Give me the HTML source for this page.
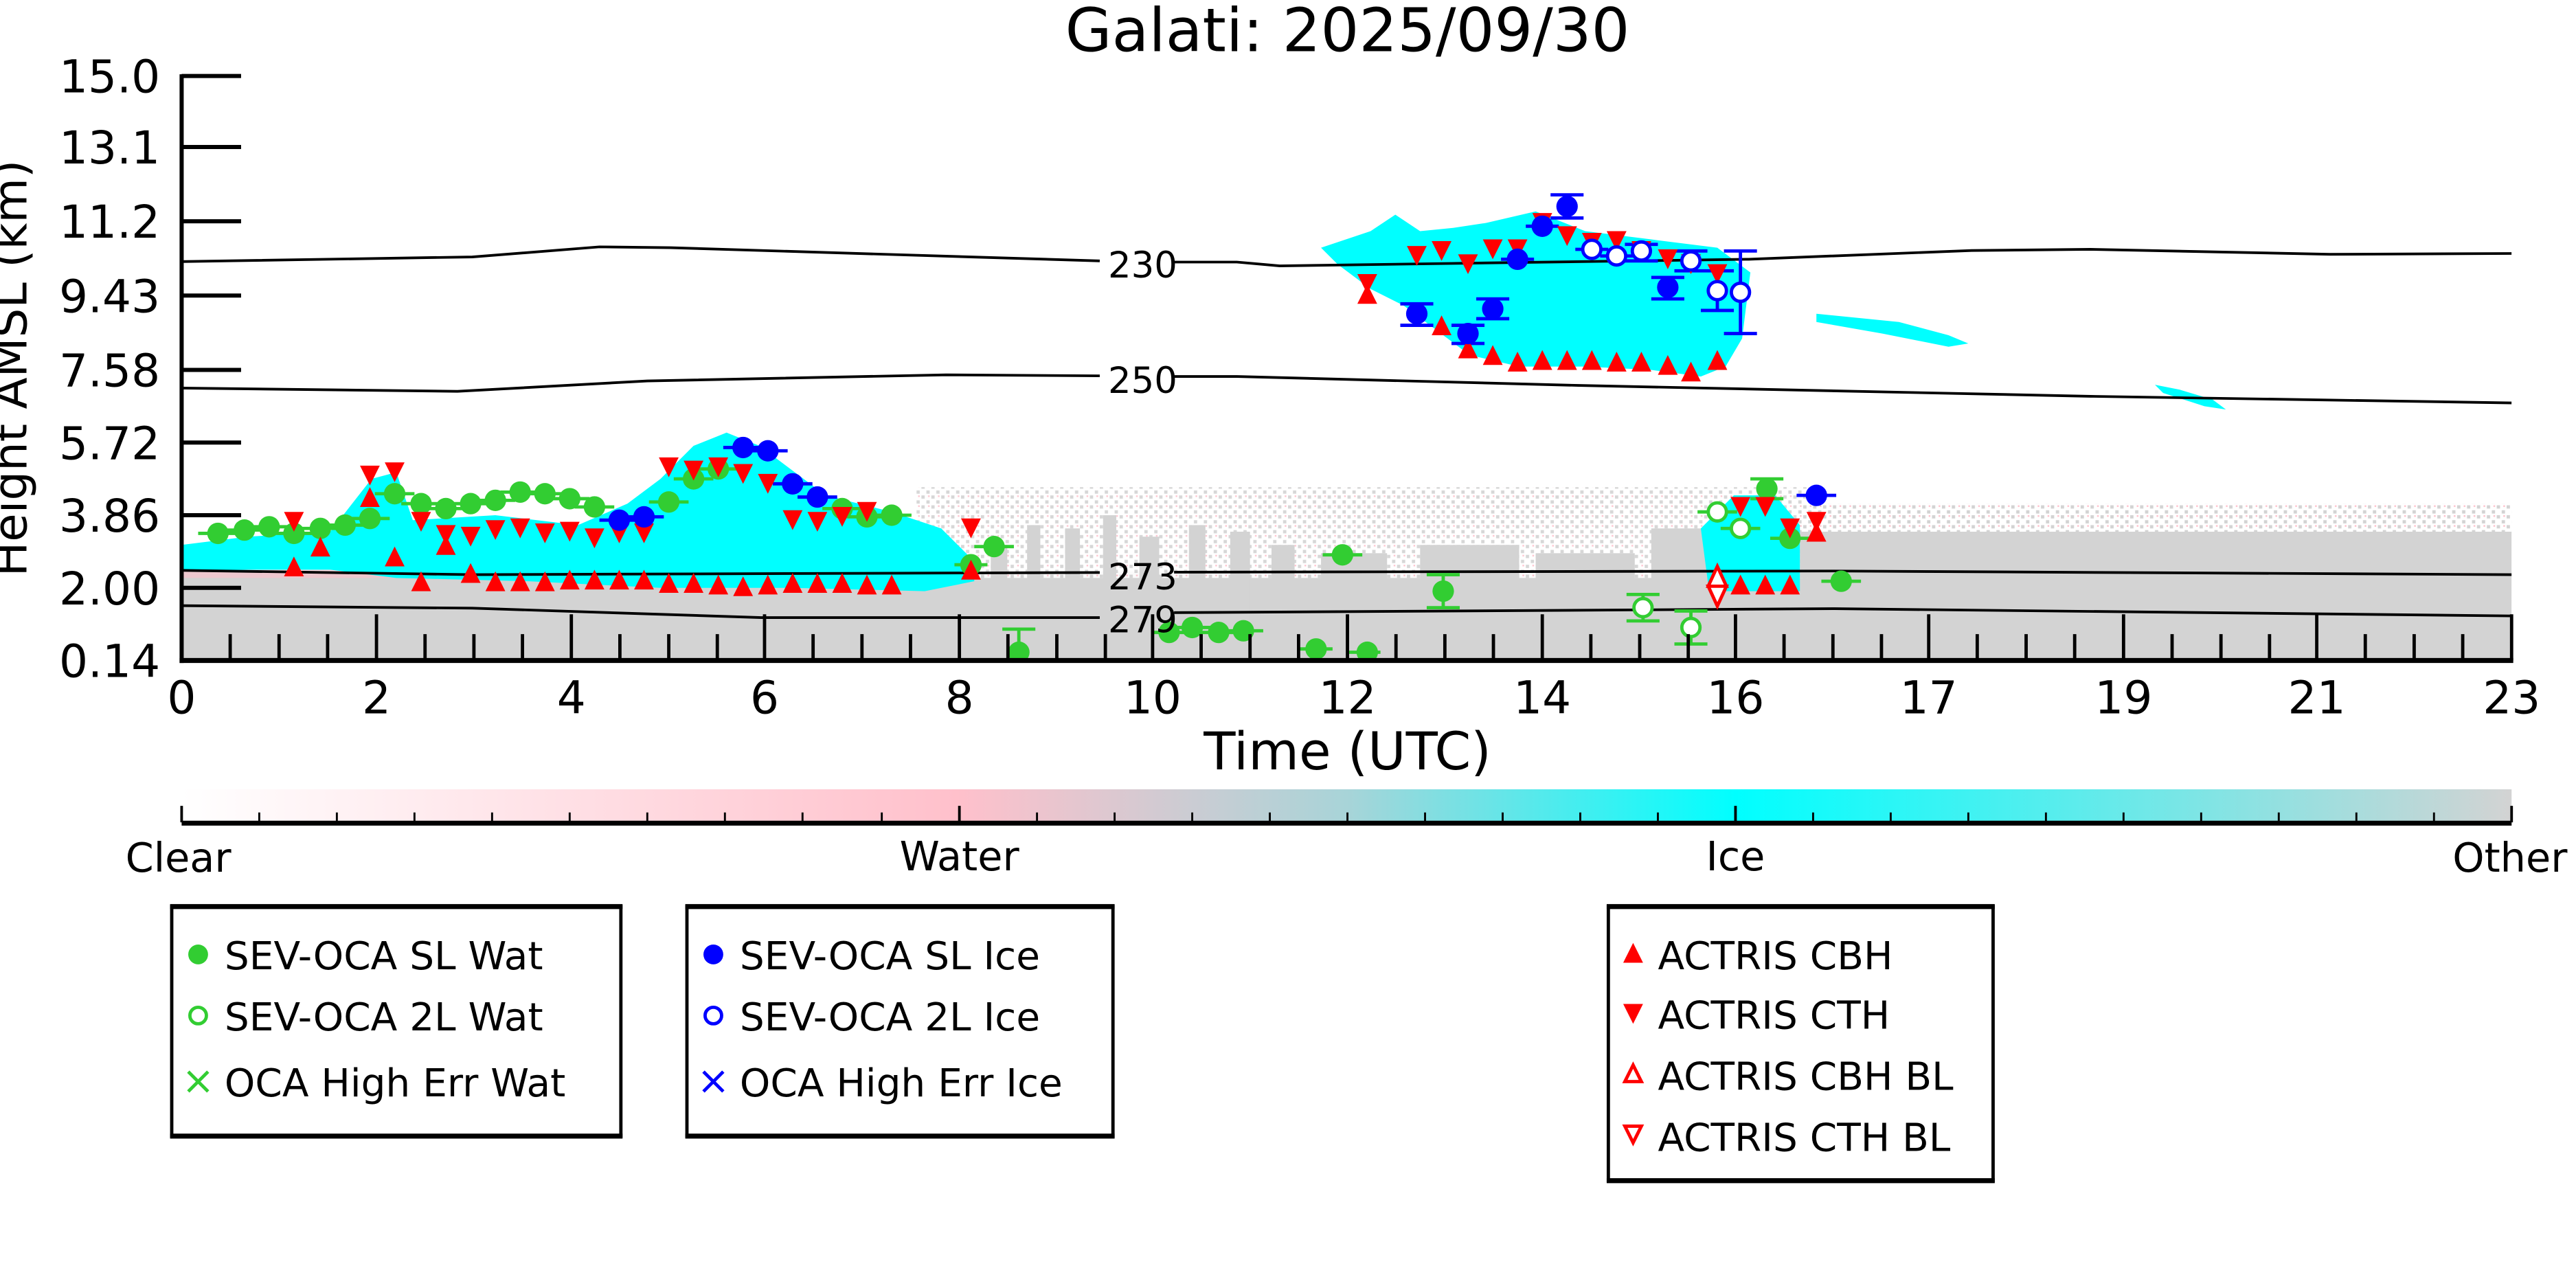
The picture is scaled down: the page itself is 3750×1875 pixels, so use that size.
<!DOCTYPE html>
<html><head><meta charset="utf-8">
<style>
html,body{margin:0;padding:0;background:#fff;}
svg{display:block;}
text{font-family:"DejaVu Sans","Liberation Sans",sans-serif;fill:#000;}
</style></head>
<body>
<svg width="3750" height="1875" viewBox="0 0 1560 780" preserveAspectRatio="none" xmlns="http://www.w3.org/2000/svg">
<defs>
<clipPath id="pc"><rect x="110" y="46" width="1411" height="354"/></clipPath>
<linearGradient id="cb" x1="110" y1="0" x2="1521" y2="0" gradientUnits="userSpaceOnUse">
<stop offset="0" stop-color="#ffffff"/>
<stop offset="0.333" stop-color="#ffc0cb"/>
<stop offset="0.5" stop-color="#a8d4d8"/>
<stop offset="0.667" stop-color="#00ffff"/>
<stop offset="1" stop-color="#d3d3d3"/>
</linearGradient>
<pattern id="sp" width="6" height="6" patternUnits="userSpaceOnUse">
<rect width="6" height="6" fill="#fff"/>
<rect x="0" y="0" width="2" height="2" fill="#d3d3d3"/><rect x="3" y="3" width="2" height="2" fill="#d3d3d3"/><rect x="4" y="0" width="1" height="1" fill="#ffc0cb"/>
</pattern>
<path id="tu" d="M0,-6 L6,6 L-6,6Z" fill="#f00"/>
<path id="td" d="M0,6 L6,-6 L-6,-6Z" fill="#f00"/>
</defs>

<text x="816" y="31" font-size="36.5" text-anchor="middle">Galati: 2025/09/30</text>

<g clip-path="url(#pc)">
<rect x="110" y="346" width="1411" height="54" fill="#d3d3d3"/>
<rect x="555" y="295" width="540" height="55" fill="url(#sp)" opacity="0.9"/>
<rect x="1090" y="305" width="431" height="20" fill="url(#sp)"/>
<rect x="1090" y="322" width="431" height="28" fill="#d3d3d3"/>
<g fill="#d3d3d3">
<rect x="600" y="330" width="10" height="70"/><rect x="622" y="318" width="8" height="82"/><rect x="645" y="320" width="9" height="80"/><rect x="668" y="312" width="8" height="88"/><rect x="690" y="325" width="12" height="75"/><rect x="720" y="318" width="10" height="82"/><rect x="745" y="322" width="12" height="78"/><rect x="770" y="330" width="14" height="70"/><rect x="800" y="335" width="40" height="65"/><rect x="860" y="330" width="60" height="70"/><rect x="930" y="335" width="60" height="65"/><rect x="1000" y="320" width="40" height="80"/>
</g>
<rect x="110" y="340" width="470" height="10" fill="#ffc0cb" opacity="0.6"/>
<path d="M110,330 L150,325 L200,322 L225,290 L240,286 L250,315 L300,312 L350,318 L380,305 L400,290 L420,270 L440,262 L460,270 L480,285 L500,300 L540,310 L570,320 L590,340 L590,352 L560,358 L480,356 L400,356 L320,352 L240,350 L200,345 L150,345 L110,346Z" fill="#00ffff"/>
<path d="M1030,320 L1050,300 L1075,300 L1090,318 L1090,358 L1035,358Z" fill="#00ffff"/>
<path d="M800,150 L830,140 L845,130 L860,140 L880,138 L900,135 L930,128 L960,140 L1000,145 L1040,150 L1060,165 L1055,205 L1045,222 L1030,228 L1000,224 L960,222 L920,222 L890,215 L870,200 L850,185 L830,175 L810,160Z" fill="#00ffff"/>
<path d="M1100,190 L1150,195 L1180,203 L1192,208 L1180,210 L1140,202 L1100,195Z" fill="#00ffff"/>
<path d="M1305,233 L1320,236 L1340,242 L1348,248 L1335,246 L1310,238Z" fill="#00ffff"/>
<g fill="none" stroke="#000" stroke-width="1.6">
<path d="M110,158.4 L286,155.6 L363,149.5 L406,150 L666,158"/>
<path d="M711,158.7 L749,158.7 L775,161 L1059,157 L1194,151.7 L1266,151 L1411,154 L1521,153.5"/>
<path d="M110,235 L277,237 L392,230.7 L573,227 L666,227.6"/>
<path d="M711,228 L749,228 L956,233.4 L1266,240 L1521,244"/>
<path d="M110,345.4 L286,348 L666,346.7"/>
<path d="M711,346.5 L1111,345.8 L1521,348"/>
<path d="M110,366.8 L286,368.3 L461,374 L666,374"/>
<path d="M711,371 L749,370.8 L1111,368.6 L1521,373"/>
</g>
<g stroke="#32cd32" stroke-width="2" fill="none">
<path d="M120,323h24M136,321h24M151,319h24M166,323h24M182,320h24M197,318h24M212,314h24M227,299h24M243,305h24M258,308h24M273,305h24M288,303h24M303,298h24M318,299h24M333,302h24M348,307h24M393,304h24M408,290h24M423,284h24M498,308h24M513,313h24M528,312h24M578,342h20M590,331h24"/>
<path d="M607,381h20M617,381v14M698,383h20M710,380h24M726,383h24M741,382h24M787,393h20M801,336h24M816,395h20M864,348h20M874,348v20M864,368h20"/>
<path d="M985,360h20M995,360v16M985,376h20M1014,370h20M1024,370v20M1014,390h20M1028,310h24M1042,320h24M1060,290h20M1060,302h20M1072,326h24M1103,352h24"/>
</g>
<g stroke="#00f" stroke-width="2" fill="none">
<path d="M363,315h24M378,313h24M438,271h24M453,273h24M468,293h24M483,301h24"/>
<path d="M848,184h20M848,197h20M858,184v13M879,197h20M879,208h20M894,181h20M894,193h20M909,157h20M924,137h20M939,118h20M939,132h20M949,118v14M1000,168h20M1000,181h20M1088,300h24"/>
<path d="M954,151h20M969,155h20M984,148h20M984,158h20M1014,152h20M1014,164h20M1030,164h20M1040,164v24M1030,188h20M1044,152h20M1054,152v50M1044,202h20"/>
</g>
<g fill="#32cd32">
<circle cx="132" cy="323" r="6.5"/><circle cx="148" cy="321" r="6.5"/><circle cx="163" cy="319" r="6.5"/><circle cx="178" cy="323" r="6.5"/><circle cx="194" cy="320" r="6.5"/><circle cx="209" cy="318" r="6.5"/><circle cx="224" cy="314" r="6.5"/><circle cx="239" cy="299" r="6.5"/><circle cx="255" cy="305" r="6.5"/><circle cx="270" cy="308" r="6.5"/><circle cx="285" cy="305" r="6.5"/><circle cx="300" cy="303" r="6.5"/><circle cx="315" cy="298" r="6.5"/><circle cx="330" cy="299" r="6.5"/><circle cx="345" cy="302" r="6.5"/><circle cx="360" cy="307" r="6.5"/><circle cx="405" cy="304" r="6.5"/><circle cx="420" cy="290" r="6.5"/><circle cx="435" cy="284" r="6.5"/><circle cx="510" cy="308" r="6.5"/><circle cx="525" cy="313" r="6.5"/><circle cx="540" cy="312" r="6.5"/><circle cx="588" cy="342" r="6.5"/><circle cx="602" cy="331" r="6.5"/><circle cx="617" cy="395" r="6.5"/><circle cx="708" cy="383" r="6.5"/><circle cx="722" cy="380" r="6.5"/><circle cx="738" cy="383" r="6.5"/><circle cx="753" cy="382" r="6.5"/><circle cx="797" cy="393" r="6.5"/><circle cx="813" cy="336" r="6.5"/><circle cx="828" cy="395" r="6.5"/><circle cx="874" cy="358" r="6.5"/><circle cx="1070" cy="296" r="6.5"/><circle cx="1084" cy="326" r="6.5"/><circle cx="1115" cy="352" r="6.5"/>
</g>
<g fill="#fff" stroke="#32cd32" stroke-width="2">
<circle cx="995" cy="368" r="5.5"/><circle cx="1024" cy="380" r="5.5"/><circle cx="1040" cy="310" r="5.5"/><circle cx="1054" cy="320" r="5.5"/>
</g>
<g>
<use href="#tu" x="255" y="352"/><use href="#tu" x="285" y="347"/><use href="#tu" x="300" y="352"/><use href="#tu" x="315" y="352"/><use href="#tu" x="330" y="352"/><use href="#tu" x="345" y="351"/><use href="#tu" x="360" y="351"/><use href="#tu" x="375" y="351"/><use href="#tu" x="390" y="351"/><use href="#tu" x="405" y="353"/><use href="#tu" x="420" y="353"/><use href="#tu" x="435" y="354"/><use href="#tu" x="450" y="355"/><use href="#tu" x="465" y="354"/><use href="#tu" x="480" y="353"/><use href="#tu" x="495" y="353"/><use href="#tu" x="510" y="353"/><use href="#tu" x="525" y="354"/><use href="#tu" x="540" y="354"/>
<use href="#tu" x="224" y="301"/><use href="#tu" x="239" y="337"/><use href="#tu" x="270" y="330"/><use href="#tu" x="178" y="343"/><use href="#tu" x="194" y="331"/><use href="#tu" x="588" y="345"/><use href="#tu" x="828" y="178"/>
<use href="#tu" x="873" y="197"/><use href="#tu" x="889" y="211"/><use href="#tu" x="904" y="215"/><use href="#tu" x="919" y="219"/><use href="#tu" x="934" y="218"/><use href="#tu" x="949" y="218"/><use href="#tu" x="964" y="218"/><use href="#tu" x="979" y="219"/><use href="#tu" x="994" y="219"/><use href="#tu" x="1010" y="221"/><use href="#tu" x="1024" y="225"/><use href="#tu" x="1040" y="218"/>
<use href="#tu" x="1054" y="354"/><use href="#tu" x="1069" y="354"/><use href="#tu" x="1084" y="354"/><use href="#tu" x="1100" y="322"/>
<use href="#td" x="224" y="288"/><use href="#td" x="239" y="286"/><use href="#td" x="178" y="316"/><use href="#td" x="255" y="316"/><use href="#td" x="270" y="324"/><use href="#td" x="285" y="325"/><use href="#td" x="300" y="321"/><use href="#td" x="315" y="320"/><use href="#td" x="330" y="323"/><use href="#td" x="345" y="322"/><use href="#td" x="360" y="326"/><use href="#td" x="375" y="323"/><use href="#td" x="390" y="323"/>
<use href="#td" x="405" y="283"/><use href="#td" x="420" y="285"/><use href="#td" x="435" y="283"/><use href="#td" x="450" y="287"/><use href="#td" x="465" y="293"/><use href="#td" x="480" y="315"/><use href="#td" x="495" y="316"/><use href="#td" x="510" y="313"/><use href="#td" x="525" y="310"/><use href="#td" x="588" y="320"/>
<use href="#td" x="828" y="172"/><use href="#td" x="858" y="155"/><use href="#td" x="873" y="152"/><use href="#td" x="889" y="160"/><use href="#td" x="904" y="151"/><use href="#td" x="919" y="151"/><use href="#td" x="934" y="135"/><use href="#td" x="949" y="143"/><use href="#td" x="964" y="147"/><use href="#td" x="979" y="146"/><use href="#td" x="994" y="152"/><use href="#td" x="1010" y="157"/><use href="#td" x="1024" y="160"/><use href="#td" x="1040" y="166"/>
<use href="#td" x="1054" y="307"/><use href="#td" x="1069" y="307"/><use href="#td" x="1084" y="320"/><use href="#td" x="1100" y="316"/>
</g>
<path d="M1040,343 L1045.5,355 L1034.5,355Z M1040,367 L1045.5,355 L1034.5,355Z" fill="#fff" stroke="#f00" stroke-width="2"/>
<g fill="#00f">
<circle cx="375" cy="315" r="6.5"/><circle cx="390" cy="313" r="6.5"/><circle cx="450" cy="271" r="6.5"/><circle cx="465" cy="273" r="6.5"/><circle cx="480" cy="293" r="6.5"/><circle cx="495" cy="301" r="6.5"/><circle cx="858" cy="190" r="6.5"/><circle cx="889" cy="202" r="6.5"/><circle cx="904" cy="187" r="6.5"/><circle cx="919" cy="157" r="6.5"/><circle cx="934" cy="137" r="6.5"/><circle cx="949" cy="125" r="6.5"/><circle cx="1010" cy="174" r="6.5"/><circle cx="1100" cy="300" r="6.5"/>
</g>
<g fill="#fff" stroke="#00f" stroke-width="2">
<circle cx="964" cy="151" r="5.5"/><circle cx="979" cy="155" r="5.5"/><circle cx="994" cy="152" r="5.5"/><circle cx="1024" cy="158" r="5.5"/><circle cx="1040" cy="176" r="5.5"/><circle cx="1054" cy="177" r="5.5"/>
</g>
</g>
<g font-size="22">
<text x="671" y="168">230</text><text x="671" y="238">250</text><text x="671" y="357">273</text><text x="671" y="383">279</text>
</g>

<g stroke="#000" fill="none">
<path d="M110,45 V401.5" stroke-width="2.5"/>
<path d="M108.75,400 H1522" stroke-width="3"/>
<path d="M1521,372 V400" stroke-width="2"/>
<path d="M110,46h36M110,89h36M110,134h36M110,179h36M110,224h36M110,268h36M110,312h36M110,356h36" stroke-width="2.5"/>
<path stroke-width="2" d="M228,372V400M346,372V400M463,372V400M581,372V400M698,372V400M816,372V400M934,372V400M1051,372V400M1168,372V400M1286,372V400M1403,372V400
M139.4,384V400M169,384V400M198.4,384V400M257.4,384V400M287,384V400M316.4,384V400M375.4,384V400M405,384V400M434.4,384V400M492.4,384V400M522,384V400M551.4,384V400M610.4,384V400M640,384V400M669.4,384V400M727.4,384V400M757,384V400M786.4,384V400M845.4,384V400M875,384V400M904.4,384V400M963.4,384V400M993,384V400M1022.4,384V400M1080.4,384V400M1110,384V400M1139.4,384V400M1197.4,384V400M1227,384V400M1256.4,384V400M1315.4,384V400M1345,384V400M1374.4,384V400M1432.4,384V400M1462,384V400M1491.4,384V400"/>
</g>
<g font-size="27.5" text-anchor="end">
<text x="97" y="56">15.0</text><text x="97" y="99">13.1</text><text x="97" y="144">11.2</text><text x="97" y="189">9.43</text><text x="97" y="234">7.58</text><text x="97" y="278">5.72</text><text x="97" y="322">3.86</text><text x="97" y="366">2.00</text><text x="97" y="410">0.14</text>
</g>
<g font-size="27.5" text-anchor="middle">
<text x="110" y="432">0</text><text x="228" y="432">2</text><text x="346" y="432">4</text><text x="463" y="432">6</text><text x="581" y="432">8</text><text x="698" y="432">10</text><text x="816" y="432">12</text><text x="934" y="432">14</text><text x="1051" y="432">16</text><text x="1168" y="432">17</text><text x="1286" y="432">19</text><text x="1403" y="432">21</text><text x="1521" y="432">23</text>
</g>
<text x="816" y="466" font-size="31.5" text-anchor="middle">Time (UTC)</text>
<text transform="translate(16,223) rotate(-90)" font-size="28" text-anchor="middle">Height AMSL (km)</text>

<rect x="110" y="478" width="1411" height="20" fill="url(#cb)"/>
<path d="M110,498.5 H1521" stroke="#000" stroke-width="3"/>
<g stroke="#000" stroke-width="1.2">
<path d="M110,488V498M581,488V498M1051,488V498M1521,488V498" stroke-width="1.6"/>
<path d="M157,492V498M204,492V498M251,492V498M298,492V498M345,492V498M392,492V498M439,492V498M486,492V498M534,492V498M628,492V498M675,492V498M722,492V498M769,492V498M816,492V498M863,492V498M910,492V498M957,492V498M1004,492V498M1098,492V498M1145,492V498M1192,492V498M1239,492V498M1286,492V498M1333,492V498M1380,492V498M1427,492V498M1474,492V498"/>
</g>
<g font-size="24.5" text-anchor="middle">
<text x="108" y="528">Clear</text><text x="581" y="527">Water</text><text x="1051" y="527">Ice</text><text x="1520" y="528">Other</text>
</g>

<g fill="none" stroke="#000">
<rect x="104" y="549" width="272" height="139" stroke-width="2"/>
<path d="M103,549H377M103,688H377" stroke-width="3"/>
<rect x="416" y="549" width="258" height="139" stroke-width="2"/>
<path d="M415,549H675M415,688H675" stroke-width="3"/>
<rect x="974" y="549" width="233" height="166" stroke-width="2"/>
<path d="M973,549H1208M973,715H1208" stroke-width="3"/>
</g>
<g font-size="23.5">
<circle cx="120" cy="578" r="6" fill="#32cd32"/><text x="136" y="587">SEV-OCA SL Wat</text>
<circle cx="120" cy="615" r="5" fill="#fff" stroke="#32cd32" stroke-width="2"/><text x="136" y="624">SEV-OCA 2L Wat</text>
<path d="M114,649l12,12M126,649l-12,12" stroke="#32cd32" stroke-width="2"/><text x="136" y="664">OCA High Err Wat</text>
<circle cx="432" cy="578" r="6" fill="#00f"/><text x="448" y="587">SEV-OCA SL Ice</text>
<circle cx="432" cy="615" r="5" fill="#fff" stroke="#00f" stroke-width="2"/><text x="448" y="624">SEV-OCA 2L Ice</text>
<path d="M426,649l12,12M438,649l-12,12" stroke="#00f" stroke-width="2"/><text x="448" y="664">OCA High Err Ice</text>
<path d="M989,571l6,12h-12z" fill="#f00"/><text x="1004" y="587">ACTRIS CBH</text>
<path d="M989,620l6,-12h-12z" fill="#f00"/><text x="1004" y="623">ACTRIS CTH</text>
<path d="M989,645l5,10h-10z" fill="#fff" stroke="#f00" stroke-width="2"/><text x="1004" y="660">ACTRIS CBH BL</text>
<path d="M989,692l5,-10h-10z" fill="#fff" stroke="#f00" stroke-width="2"/><text x="1004" y="697">ACTRIS CTH BL</text>
</g>
</svg>
</body></html>
